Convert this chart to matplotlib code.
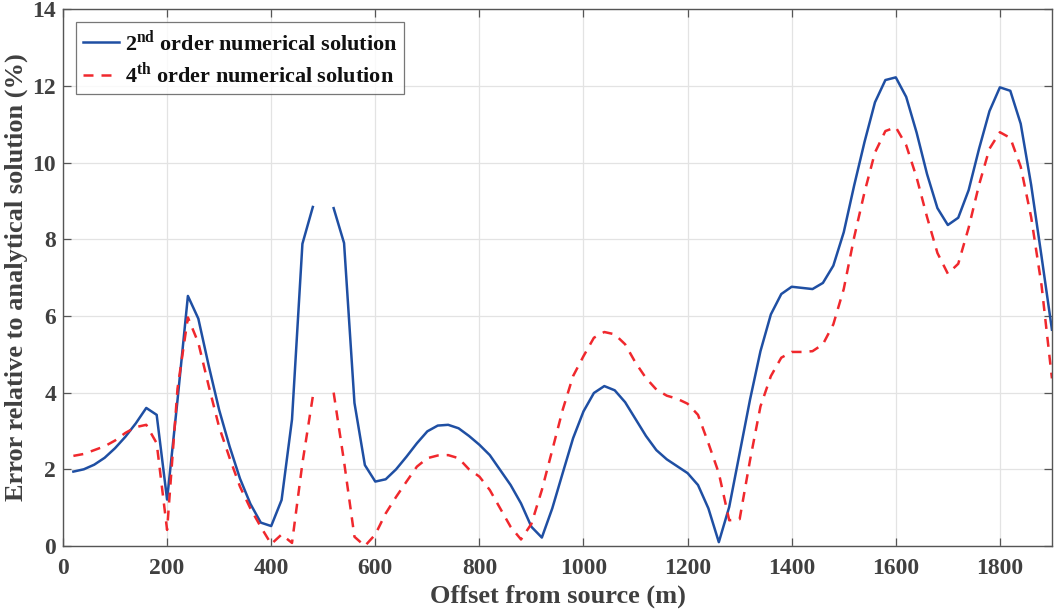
import numpy as np
import matplotlib
matplotlib.use('Agg')
import matplotlib.pyplot as plt

plt.rcParams['font.family'] = 'Liberation Serif'
plt.rcParams['font.weight'] = 'bold'
plt.rcParams['axes.labelweight'] = 'bold'
plt.rcParams['mathtext.fontset'] = 'custom'
plt.rcParams['mathtext.rm'] = 'Liberation Serif:bold'
plt.rcParams['mathtext.bf'] = 'Liberation Serif:bold'

# offsets (m), sampled every 20 m; value at 500 m is missing
offset = np.arange(20, 1901, 20)

err_2nd = [1.94, 2.0, 2.12, 2.3, 2.55, 2.85, 3.2, 3.6, 3.42, 1.21,
           3.8, 6.52, 5.93, 4.7, 3.55, 2.6, 1.76, 1.1, 0.61, 0.52,
           1.2, 3.3, 7.88, 8.84, np.nan, 8.81, 7.9, 3.73, 2.11, 1.68,
           1.74, 2.0, 2.33, 2.68, 2.99, 3.14, 3.16, 3.07, 2.87, 2.64,
           2.37, 1.98, 1.59, 1.11, 0.5, 0.22, 0.98, 1.9, 2.81, 3.51,
           3.99, 4.17, 4.06, 3.75, 3.31, 2.87, 2.5, 2.26, 2.08, 1.9,
           1.59, 0.98, 0.1, 1.02, 2.42, 3.82, 5.08, 6.04, 6.57, 6.76,
           6.73, 6.7, 6.86, 7.31, 8.18, 9.4, 10.54, 11.57, 12.15, 12.22,
           11.71, 10.78, 9.7, 8.81, 8.37, 8.56, 9.28, 10.36, 11.34, 11.96,
           11.87, 11.01, 9.42, 7.55, 5.64]

err_4th = [2.35, 2.4, 2.5, 2.6, 2.75, 2.95, 3.1, 3.16, 2.68, 0.42,
           4.1, 5.96, 5.3, 4.17, 3.1, 2.3, 1.55, 0.98, 0.5, 0.05,
           0.3, 0.08, 2.16, 3.9, np.nan, 4.0, 2.2, 0.24, 0.0, 0.3,
           0.85, 1.28, 1.68, 2.07, 2.29, 2.36, 2.37, 2.29, 2.0, 1.81,
           1.46, 0.98, 0.5, 0.17, 0.58, 1.46, 2.5, 3.55, 4.43, 4.95,
           5.43, 5.58, 5.52, 5.26, 4.78, 4.38, 4.08, 3.92, 3.84, 3.71,
           3.42, 2.68, 1.9, 0.67, 0.7, 2.24, 3.64, 4.43, 4.91, 5.06,
           5.06, 5.08, 5.26, 5.78, 6.7, 8.05, 9.23, 10.26, 10.82, 10.92,
           10.45, 9.61, 8.58, 7.64, 7.1, 7.36, 8.3, 9.42, 10.36, 10.79,
           10.64, 9.89, 8.58, 6.8, 4.37]

label_2nd = r'2$^{\mathbf{nd}}$ order numerical solution'
label_4th = r'4$^{\mathbf{th}}$ order numerical solution'

txt = '#404040'
fig = plt.figure(figsize=(10.55, 6.15), dpi=100)
ax = fig.add_axes([0.0597, 0.1122, 0.9374, 0.873])

ax.plot(offset, err_2nd, color='#1f4fa3', lw=1.8, label=label_2nd)
ax.plot(offset, err_4th, color='#f0282d', lw=1.8, ls=(0, (4, 3.2)), label=label_4th)

ax.set_xlim(0, 1900)
ax.set_ylim(0, 14)
ax.set_xticks(np.arange(0, 1801, 200))
ax.set_yticks(np.arange(0, 15, 2))
ax.grid(True, color='#e3e3e3', lw=0.9)
ax.set_axisbelow(True)
ax.tick_params(direction='in', top=True, right=True, length=6, width=0.9,
               colors='#555555', labelcolor=txt, labelsize=17, pad=5)
ax.tick_params(axis='x', pad=9)
for s in ax.spines.values():
    s.set_color('#555555')
    s.set_linewidth(1.0)

ax.set_xlabel('Offset from source (m)', fontsize=19, color=txt, labelpad=4)
ax.set_ylabel('Error relative to analytical solution (%)', fontsize=19,
              color=txt, labelpad=3)

leg = ax.legend(loc='upper left', fontsize=16, frameon=True, fancybox=False,
                edgecolor='#555555', borderaxespad=0.6, handlelength=1.6,
                borderpad=0.3, labelspacing=0.3, handletextpad=0.3)
leg.get_frame().set_linewidth(0.9)
for t in leg.get_texts():
    t.set_color('#111111')

fig.savefig('out.png', dpi=100)
